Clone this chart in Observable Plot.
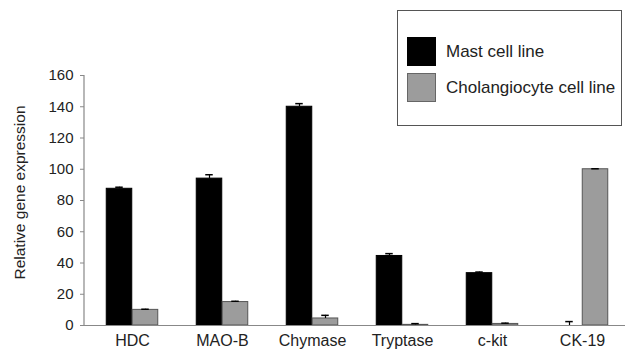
<!DOCTYPE html>
<html>
<head>
<meta charset="utf-8">
<script src="https://cdn.jsdelivr.net/npm/d3@7"></script>
<script src="https://cdn.jsdelivr.net/npm/@observablehq/plot@0.6"></script>
<style>
  html, body { margin: 0; padding: 0; background: #fff; }
  #wrap { position: relative; width: 625px; height: 352px; font-family: "Liberation Sans", Arial, sans-serif; }
  #legend { position: absolute; left: 397px; top: 10px; width: 223px; height: 114px; border: 1.5px solid #555; background: #fff; }
  .sw { position: absolute; left: 9px; width: 27px; height: 27px; }
  .lt { position: absolute; left: 48px; font-size: 17px; color: #222; line-height: 20px; white-space: nowrap; }
</style>
</head>
<body>
<div id="wrap"></div>
<script>
const genes = ["HDC", "MAO-B", "Chymase", "Tryptase", "c-kit", "CK-19"];
const seriesNames = ["Mast cell line", "Cholangiocyte cell line"];
const mastValues = [87.5, 94, 140, 44.5, 33.5, 0];
const mastErrors = [1, 2.5, 2, 1.5, 0.7, 2.5];
const cholValues = [10, 15, 4.5, 0.4, 1, 100];
const cholErrors = [0.4, 0.5, 2, 0.8, 0.5, 0.3];
const yTicks = [0, 20, 40, 60, 80, 100, 120, 140, 160];
const yLabel = "Relative gene expression";

const mast = genes.map((g, i) => ({gene: g, value: mastValues[i], err: mastErrors[i]}));
const chol = genes.map((g, i) => ({gene: g, value: cholValues[i], err: cholErrors[i]}));

const xRange = [85, 628];
const step = (xRange[1] - xRange[0]) / genes.length;
const half = step / 2;
const bw = 26;
const capHalf = 4;
const leftIn = {insetLeft: half - bw, insetRight: half};
const rightIn = {insetLeft: half, insetRight: half - bw};
const leftCap = {insetLeft: half - bw / 2 - capHalf, insetRight: half + bw / 2 - capHalf};
const rightCap = {insetLeft: half + bw / 2 - capHalf, insetRight: half - bw / 2 - capHalf};

// y-axis line drawn at the left edge of the frame
function yAxisLine(index, scales, values, dimensions) {
  const {marginLeft} = dimensions;
  const svgNS = "http://www.w3.org/2000/svg";
  const line = document.createElementNS(svgNS, "line");
  line.setAttribute("x1", marginLeft);
  line.setAttribute("x2", marginLeft);
  line.setAttribute("y1", scales.y(160));
  line.setAttribute("y2", scales.y(0));
  line.setAttribute("stroke", "#888");
  line.setAttribute("stroke-width", 1.2);
  return line;
}

const chart = Plot.plot({
  width: 625,
  height: 352,
  marginLeft: 84,
  marginRight: 0,
  marginTop: 75,
  marginBottom: 27,
  style: {fontFamily: "'Liberation Sans', Arial, sans-serif", background: "#fff", color: "#222", overflow: "visible"},
  x: {domain: genes, range: xRange, padding: 0, axis: null},
  y: {domain: [0, 160], axis: null},
  marks: [
    yAxisLine,
    Plot.axisY({ticks: yTicks, tickSize: 4, tickPadding: 7, fontSize: 15, stroke: "#888", label: null}),
    Plot.text([yLabel], {frameAnchor: "left", textAnchor: "middle", rotate: -90, dx: -64, dy: -8, fontSize: 15.5, fill: "#222", text: d => d}),
    Plot.axisX({tickSize: 0, tickPadding: 9, fontSize: 16, label: null}),
    Plot.barY(mast, {x: "gene", y: "value", fill: "#000", stroke: "#000", ...leftIn}),
    Plot.barY(chol, {x: "gene", y: "value", fill: "#9c9c9c", stroke: "#555", strokeWidth: 1, ...rightIn}),
    Plot.ruleX(mast, {x: "gene", y1: "value", y2: d => d.value + d.err, stroke: "#000", strokeWidth: 1.2, dx: -bw / 2}),
    Plot.ruleX(chol, {x: "gene", y1: "value", y2: d => d.value + d.err, stroke: "#000", strokeWidth: 1.2, dx: bw / 2}),
    Plot.tickY(mast, {x: "gene", y: d => d.value + d.err, stroke: "#000", strokeWidth: 1.5, ...leftCap}),
    Plot.tickY(chol, {x: "gene", y: d => d.value + d.err, stroke: "#000", strokeWidth: 1.5, ...rightCap}),
    Plot.ruleY([0], {stroke: "#888", strokeWidth: 1.2})
  ]
});

const wrap = document.getElementById("wrap");
wrap.appendChild(chart);

const legend = document.createElement("div");
legend.id = "legend";
const colors = ["#000", "#9c9c9c"];
const borders = ["#000", "#666"];
seriesNames.forEach((name, i) => {
  const sw = document.createElement("div");
  sw.className = "sw";
  sw.style.top = (26 + i * 36) + "px";
  sw.style.background = colors[i];
  sw.style.border = "1px solid " + borders[i];
  legend.appendChild(sw);
  const t = document.createElement("div");
  t.className = "lt";
  t.style.top = (31 + i * 36) + "px";
  t.textContent = name;
  legend.appendChild(t);
});
wrap.appendChild(legend);
</script>
</body>
</html>
